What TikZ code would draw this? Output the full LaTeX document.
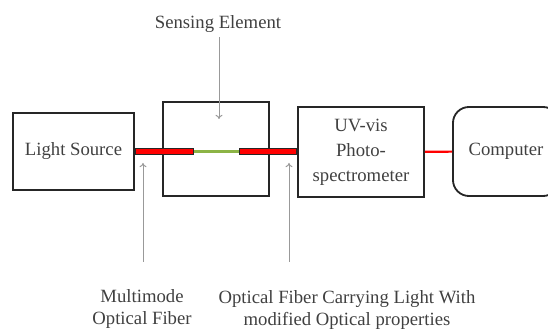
\documentclass[tikz,border=0pt]{standalone}
\usepackage{fontspec}
\setmainfont{LiberationSerif}[Extension=.ttf, UprightFont=*-Regular, BoldFont=*-Bold]
\newfontfamily\timesfont{LiberationSerif}[Extension=.ttf, UprightFont=*-Regular, BoldFont=*-Bold]
\usetikzlibrary{arrows.meta}
\definecolor{fibregreen}{RGB}{140,180,70}
\begin{document}
\begin{tikzpicture}[
  x=0.025cm, y=-0.025cm,
  block/.style={rectangle, draw=black!85, line width=1.3pt, align=center, text=black!75, font=\timesfont\fontsize{13.3}{17.7}\selectfont},
  note/.style={align=center, text=black!75, font=\timesfont\fontsize{13.3}{16}\selectfont},
  fiber/.style={line width=5pt, draw=black!85, postaction={draw=red, line width=3pt, shorten <=1pt, shorten >=1pt}},
  bare/.style={line width=1.5pt},
  pointer/.style={-{To[length=3pt, width=5pt]}, gray!80, line width=0.7pt}
]
  \clip (0,0) rectangle (548,334);
  \node[block, minimum width=3.025cm, minimum height=1.925cm] (source) at (73.5,151.5) {Light Source};
  \node[block, minimum width=2.65cm, minimum height=2.35cm] (sensor) at (216,149) {};
  \node[block, minimum width=3.15cm, minimum height=2.25cm] (spectro) at (361,152) {UV-vis\\Photo-\\spectrometer};
  \node[block, rounded corners=0.4cm, minimum width=2.65cm, minimum height=2.225cm] (computer) at (506,151.5) {Computer};
  % fibres
  \coordinate (fibreA) at (194,151.5);
  \coordinate (fibreB) at (239,151.5);
  \draw[fiber] (source.east) -- (fibreA);
  \draw[bare, fibregreen] (fibreA) -- (fibreB);
  \draw[fiber] (fibreB) -- (fibreB -| spectro.west);
  \draw[bare, red] (spectro) -- (computer);
  % labels
  \node[note] (sensing) at (218,24) {Sensing Element};
  \node[note] (multimode) at (142,309) {Multimode\\Optical Fiber};
  \node[note] (carrying) at (347,310) {Optical Fiber Carrying Light With\\modified Optical properties};
  \coordinate (tipS) at (219,119);
  \coordinate (tipM) at (143,163);
  \coordinate (tailM) at (143,262);
  \coordinate (tipC) at (289,163);
  \coordinate (tailC) at (289,262);
  \draw[pointer] (sensing.south -| tipS) -- (tipS);
  \draw[pointer] (tailM) -- (tipM);
  \draw[pointer] (tailC) -- (tipC);
\end{tikzpicture}
\end{document}
